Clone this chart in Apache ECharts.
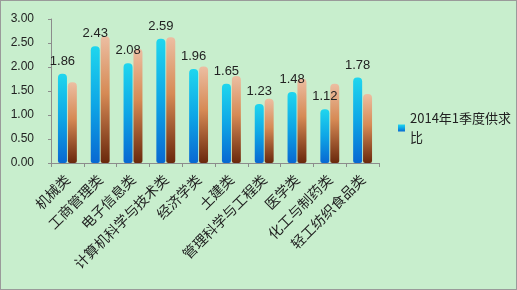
<!DOCTYPE html>
<html><head><meta charset="utf-8">
<script src="https://cdn.jsdelivr.net/npm/echarts@6/dist/echarts.min.js"></script>
<style>html,body{margin:0;padding:0;background:#c8eecd}#c{width:517px;height:290px;box-sizing:border-box;border:1px solid #9a9a9a}</style>
</head><body><div id="c"></div>
<script>
const categories = ['机械类','工商管理类','电子信息类','计算机科学与技术类','经济学类','土建类','管理科学与工程类','医学类','化工与制药类','轻工纺织食品类'];
const seriesName1 = '2014年1季度供求比';
const seriesName2 = '2013年4季度供求比';
const values1 = [1.86, 2.43, 2.08, 2.59, 1.96, 1.65, 1.23, 1.48, 1.12, 1.78];
const values2 = [1.68, 2.64, 2.38, 2.62, 2.01, 1.81, 1.34, 1.76, 1.65, 1.44];
const yTicks = {min: 0, max: 3, interval: 0.5};

const chart = echarts.init(document.getElementById('c'));
const blue = new echarts.graphic.LinearGradient(0,0,0,1,[
  {offset:0,color:'#1fd6ee'},{offset:0.5,color:'#0ea6e6'},{offset:1,color:'#0868d2'}]);
const orange = new echarts.graphic.LinearGradient(0,0,0,1,[
  {offset:0,color:'#ecbea2'},{offset:0.45,color:'#d68a55'},{offset:1,color:'#6a280c'}]);
chart.setOption({
  backgroundColor: '#c8eecd',
  animation: false,
  grid: {left: 50, top: 18, width: 328, height: 144},
  legend: {
    data: [seriesName1], left: 392, top: 103, orient: 'vertical',
    itemWidth: 7, itemHeight: 7, icon: 'rect', itemGap: 4,
    textStyle: {fontSize: 13, color: '#222', fontFamily: 'Noto Sans CJK SC', width: 106, overflow: 'break', lineHeight: 19}
  },
  xAxis: {
    type: 'category', data: categories,
    axisLine: {lineStyle: {color: '#8c8c8c'}},
    axisTick: {show: true, lineStyle: {color: '#8c8c8c'}, length: 4},
    axisLabel: {rotate: 45, interval: 0, fontSize: 14, color: '#222', fontFamily: 'Noto Sans CJK SC', margin: 14}
  },
  yAxis: {
    type: 'value', min: yTicks.min, max: yTicks.max, interval: yTicks.interval,
    axisLine: {show: true, lineStyle: {color: '#8c8c8c'}},
    axisTick: {show: true, lineStyle: {color: '#8c8c8c'}, length: 3},
    splitLine: {show: false},
    axisLabel: {formatter: v => v.toFixed(2), fontSize: 12, color: '#222', fontFamily: 'Liberation Sans', margin: 8, padding: [0, 9, 0, 0]}
  },
  series: [
    {name: seriesName1, type: 'bar', data: values1, barWidth: 9, barGap: '10%',
     itemStyle: {color: blue, borderRadius: [4,4,2,2]},
     label: {show: true, position: 'top', distance: 6, fontSize: 13, color: '#222', fontFamily: 'Liberation Sans', formatter: p => p.value.toFixed(2)}},
    {name: seriesName2, type: 'bar', data: values2, barWidth: 9,
     itemStyle: {color: orange, borderRadius: [4,4,2,2]}}
  ]
});
</script></body></html>
